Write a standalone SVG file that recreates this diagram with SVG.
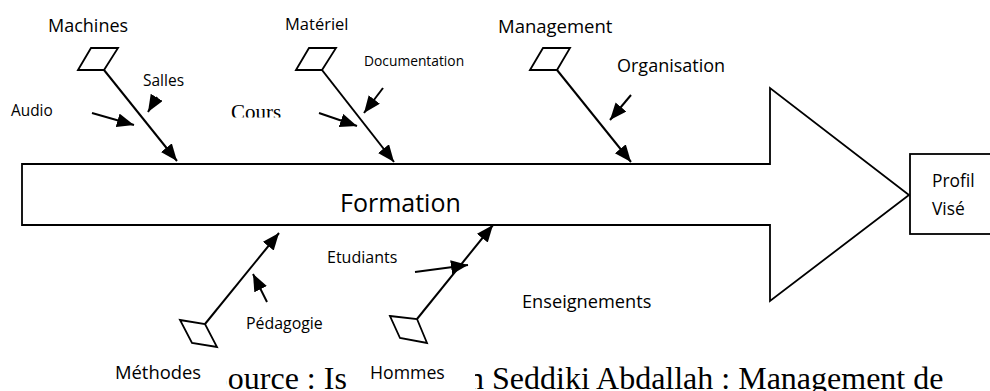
<svg xmlns="http://www.w3.org/2000/svg" width="990" height="391" viewBox="0 0 990 391">
<style>
.t{font-family:"Open Sans","Noto Sans",sans-serif;fill:#000}
.s{font-family:"Liberation Serif","Times New Roman",serif;fill:#000}
.ln{stroke:#000;stroke-width:2;fill:none}
.sh{fill:#fff;stroke:#000;stroke-width:1.8;stroke-linejoin:miter}
</style>
<defs>
<marker id="ah" markerUnits="userSpaceOnUse" markerWidth="18" markerHeight="15" refX="17" refY="7" orient="auto">
<path d="M0,0 L17,7 L0,14 z" fill="#000"/>
</marker>
<clipPath id="cc"><rect x="200" y="90" width="100" height="27.5"/></clipPath>
</defs>
<rect width="990" height="391" fill="#fff"/>

<g id="source">
<text class="s" x="210" y="389" font-size="32">Source : Is</text>
<text class="s" x="468" y="389" font-size="32">n Seddiki Abdallah : Management de</text>
</g>

<g id="formation">
<polygon class="sh" points="22,164 770,164 770,88 909,195 770,301 770,225 22,225"/>
<text class="t" x="340" y="212" font-size="25">Formation</text>
</g>

<g id="profil">
<rect class="sh" x="910" y="154" width="90" height="80"/>
<text class="t" x="932" y="187" font-size="17.4">Profil</text>
<text class="t" x="932" y="215" font-size="17.4">Visé</text>
</g>

<g id="machines">
<polygon class="sh" points="78,70 91,48 118,48 104,70"/>
<text class="t" x="48" y="32" font-size="18">Machines</text>
</g>
<g id="salles"><text class="t" x="143" y="86" font-size="15.5">Salles</text></g>
<g id="audio"><text class="t" x="11" y="116" font-size="15.4">Audio</text></g>
<g id="cours"><text class="s" x="231" y="119" font-size="21" clip-path="url(#cc)">Cours</text></g>

<g id="materiel">
<polygon class="sh" points="296,70 309,48 336,48 322,70"/>
<text class="t" x="285" y="30" font-size="16.5">Matériel</text>
</g>
<g id="documentation"><text class="t" x="364" y="66" font-size="13.8">Documentation</text></g>

<g id="management">
<polygon class="sh" points="530,70 543,48 570,48 557,70"/>
<text class="t" x="498" y="33" font-size="18.5">Management</text>
</g>
<g id="organisation"><text class="t" x="617" y="72" font-size="18">Organisation</text></g>

<g id="methodes">
<polygon class="sh" points="180,320 205,324 217,347 192,343"/>
<rect x="112" y="356" width="114" height="35" fill="#fff"/>
<text class="t" x="115" y="379" font-size="18.4">Méthodes</text>
</g>
<g id="pedagogie"><text class="t" x="246" y="329" font-size="15.9">Pédagogie</text></g>

<g id="hommes">
<polygon class="sh" points="390,316 417,319 427,343 400,338"/>
<rect x="352" y="356" width="123" height="35" fill="#fff"/>
<text class="t" x="370" y="379" font-size="17.7">Hommes</text>
</g>
<g id="etudiants"><text class="t" x="327" y="263" font-size="16">Etudiants</text></g>
<g id="enseignements"><text class="t" x="522" y="308" font-size="18.2">Enseignements</text></g>

<g id="connectors">
<line class="ln" x1="104" y1="70" x2="177" y2="161" marker-end="url(#ah)"/>
<line class="ln" x1="157" y1="97" x2="148" y2="112" marker-end="url(#ah)"/>
<line class="ln" x1="92" y1="113" x2="134" y2="125" marker-end="url(#ah)"/>
<line class="ln" x1="322" y1="70" x2="394" y2="162" marker-end="url(#ah)"/>
<line class="ln" x1="383" y1="88" x2="364" y2="113" marker-end="url(#ah)"/>
<line class="ln" x1="319" y1="113" x2="357" y2="126" marker-end="url(#ah)"/>
<line class="ln" x1="557" y1="70" x2="631" y2="162" marker-end="url(#ah)"/>
<line class="ln" x1="631" y1="95" x2="610" y2="120" marker-end="url(#ah)"/>
<line class="ln" x1="205" y1="324" x2="279" y2="233" marker-end="url(#ah)"/>
<line class="ln" x1="267" y1="302" x2="253" y2="274" marker-end="url(#ah)"/>
<line class="ln" x1="417" y1="319" x2="493" y2="225" marker-end="url(#ah)"/>
<line class="ln" x1="415" y1="272" x2="468" y2="265" marker-end="url(#ah)"/>
</g>
</svg>
